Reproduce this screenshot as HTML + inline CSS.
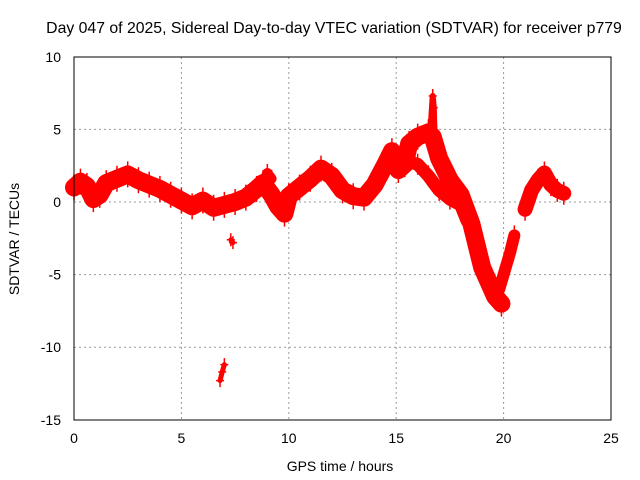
<!DOCTYPE html>
<html><head><meta charset="utf-8"><style>
body{margin:0;background:#fff}
svg{display:block;font-family:"Liberation Sans",sans-serif}
</style></head><body>
<svg id="c" width="640" height="480">
<text x="334" y="33" text-anchor="middle" font-size="15.8">Day 047 of 2025, Sidereal Day-to-day VTEC variation (SDTVAR) for receiver p779</text>
<text x="340" y="471" text-anchor="middle" font-size="14">GPS time / hours</text>
<text transform="translate(19,239) rotate(-90)" text-anchor="middle" font-size="14">SDTVAR / TECUs</text>
<g id="grid"></g><g id="marks"></g>
<rect x="74" y="57" width="537" height="363" fill="none" stroke="#000"/>
</svg>
<script>
const xTicks=[0,5,10,15,20,25];
const yTicks=[10,5,0,-5,-10,-15];
const mainT=[0,0.3,0.6,0.9,1.2,1.5,2,2.5,3,3.5,4,4.5,5,5.5,6,6.5,7,7.5,8,8.5,8.8,9.2,9.5,9.8,10,10.5,11,11.5,12,12.5,13,13.5,14,14.5,14.8,15.1,15.4,15.6,16,16.5,16.7,17,17.5,18,18.5,19,19.3,19.6,19.9];
const mainV=[1.0,1.4,1.1,0.2,0.5,1.3,1.6,1.9,1.5,1.2,0.9,0.5,0.1,-0.3,0.1,-0.4,-0.2,0.0,0.3,0.9,1.3,0.5,-0.3,-0.8,0.4,1.0,1.6,2.3,1.8,0.8,0.4,0.3,1.2,2.6,3.5,2.2,2.6,4.0,4.5,4.8,4.5,3.0,1.5,0.5,-1.5,-4.5,-5.5,-6.5,-7.0];
const lowT=[15.1,15.5,16,16.5,17,17.5,18,18.3];
const lowV=[2.2,2.8,2.6,1.8,0.8,0.2,-0.2,-1.3];
const blobT=[8.8,9.0,9.2];
const blobV=[1.3,2.0,1.6];
const recT=[19.5,19.8,20,20.3,20.5];
const recV=[-5.6,-6.0,-5.0,-3.5,-2.3];
const lateT=[21,21.3,21.6,21.9,22.2,22.5,22.8];
const lateV=[-0.5,0.8,1.5,2.0,1.2,0.8,0.6];
const spikeT=[16.6,16.7,16.75,16.8];
const spikeV=[5.0,7.3,6.5,4.0];
const isoT=[6.8,6.9,7.0,7.3,7.4];
const isoV=[-12.3,-11.7,-11.2,-2.6,-2.8];
const X=t=>74+t*537/25, Y=v=>202-v*14.52;
const NS='http://www.w3.org/2000/svg';
const g=document.getElementById('grid'),m=document.getElementById('marks'),svg=document.getElementById('c');
function mk(tag,a,p){const e=document.createElementNS(NS,tag);for(const k in a)e.setAttribute(k,a[k]);p.appendChild(e);return e;}
xTicks.forEach(t=>{
 if(t>0&&t<25){const l=mk('line',{x1:X(t),x2:X(t),y1:57,y2:420,stroke:'#999','stroke-dasharray':'2,3'},g);
 
 }
 const tx=mk('text',{x:X(t),y:443,'text-anchor':'middle','font-size':14},svg);tx.textContent=t;
 
 
});
yTicks.forEach(v=>{
 if(v<10&&v>-15){const l=mk('line',{x1:74,x2:611,y1:Y(v),y2:Y(v),stroke:'#999','stroke-dasharray':'2,3'},g);
 
 }
 const tx=mk('text',{x:61,y:Y(v)+5,'text-anchor':'end','font-size':14},svg);tx.textContent=v;
 
 
});
function series(T,V,w,name){
 const pts=T.map((t,i)=>X(t)+','+Y(V[i])).join(' ');
 const p=mk('polyline',{points:pts,fill:'none',stroke:'#f00','stroke-width':w,'stroke-linejoin':'round','stroke-linecap':'round'},m);
 
 
 T.forEach((t,i)=>{const x=X(t),y=Y(V[i]);
  const c=mk('path',{d:`M${x-4},${y}h8M${x},${y-w/2-4}v${w+8}`,stroke:'#f00','stroke-width':1.5},m);
  
  });
}
series(mainT,mainV,18,'main-series');
series(lowT,lowV,13,'lower-branch');
series(blobT,blobV,10,'blob-series');
series(recT,recV,12,'recovery-branch');
series(lateT,lateV,15,'late-series');
series(spikeT,spikeV,6,'spike');
series(isoT.slice(0,3),isoV.slice(0,3),5,'outlier-low');
series(isoT.slice(3),isoV.slice(3),5,'outlier-mid');
</script>
</body></html>
